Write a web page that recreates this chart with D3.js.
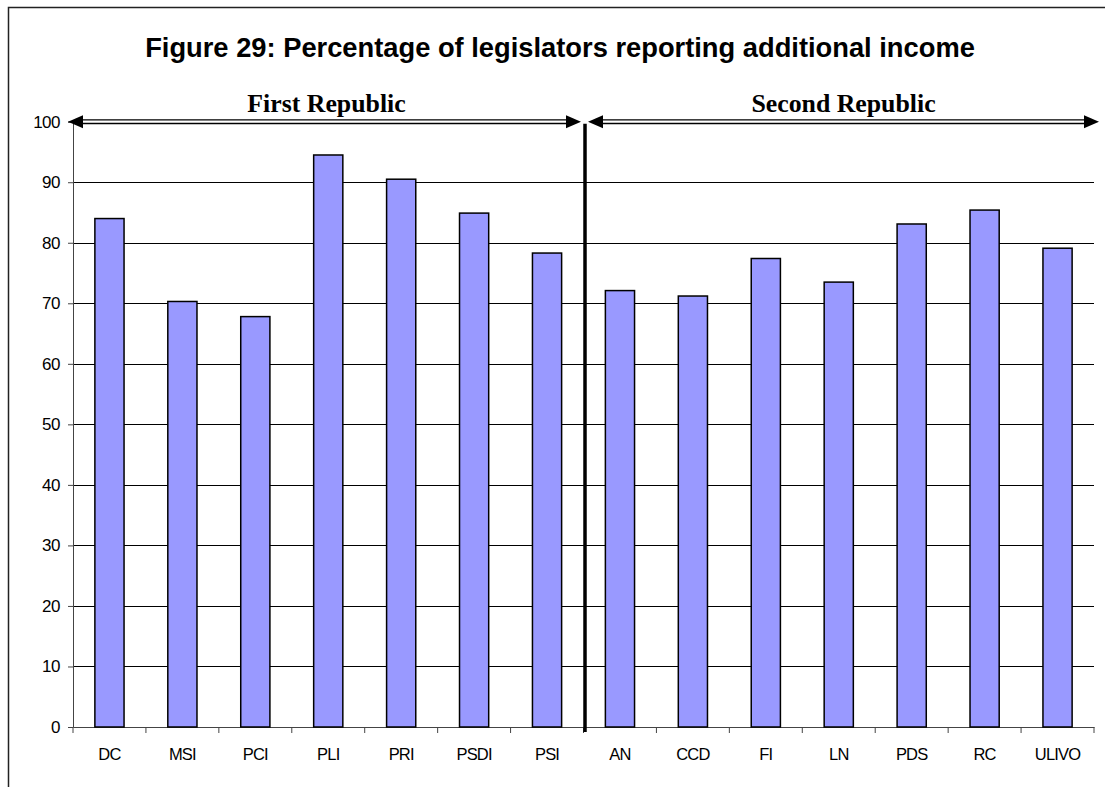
<!DOCTYPE html>
<html><head><meta charset="utf-8">
<script src="https://cdn.jsdelivr.net/npm/d3@7"></script>
<style>body{margin:0;background:#fff}svg{display:block}</style>
</head><body>
<svg id="c" width="1105" height="787"></svg>
<script>
const categories = ["DC","MSI","PCI","PLI","PRI","PSDI","PSI","AN","CCD","FI","LN","PDS","RC","ULIVO"];
const values = [84.0,70.3,67.8,94.5,90.5,84.9,78.3,72.1,71.2,77.4,73.5,83.1,85.4,79.1];
const yTicks = [0,10,20,30,40,50,60,70,80,90,100];
const periods = [{label:"First Republic", from:"DC", to:"PSI"},{label:"Second Republic", from:"AN", to:"ULIVO"}];
const title = "Figure 29: Percentage of legislators reporting additional income";

const svg = d3.select("#c");
const L = 73, R = 1094, T = 121.7, B = 727;
const x = d3.scaleBand().domain(categories).range([L, R]).paddingInner(0.6).paddingOuter(0.3);
const xb = d3.scaleBand().domain(categories).range([L, R]);
const y = d3.scaleLinear().domain([0,100]).range([B, T]);

// border
svg.append("path").attr("d", `M8.5,800 L8.5,7.5 L1110,7.5`).attr("fill","none").attr("stroke","#222").attr("stroke-width",1.5);

// title
svg.append("text").attr("x", 560).attr("y", 57).attr("text-anchor","middle")
  .attr("font-family","Liberation Sans, Arial, sans-serif").attr("font-weight","bold").attr("font-size",27.3)
  .text(title);

// gridlines
svg.append("g").selectAll("line").data(yTicks.filter(d=>d>0 && d<100)).join("line")
  .attr("x1",L).attr("x2",R).attr("y1",d=>Math.round(y(d))+0.5).attr("y2",d=>Math.round(y(d))+0.5)
  .attr("stroke","#000").attr("stroke-width",1);

// y axis
const ya = svg.append("g").attr("transform",`translate(${L},0)`)
  .call(d3.axisLeft(y).tickValues(yTicks).tickSize(5).tickPadding(8));
ya.select(".domain").attr("stroke","#444");
ya.selectAll(".tick line").attr("stroke","#444");
ya.selectAll("text").attr("font-family","Liberation Sans, Arial, sans-serif").attr("font-size",17).attr("fill","#000").attr("letter-spacing","-0.5px");

// x axis
const xa = svg.append("g").attr("transform",`translate(0,${B})`)
  .call(d3.axisBottom(xb).tickSize(0).tickPadding(21));
xa.select(".domain").attr("stroke","#444");
xa.selectAll("text").attr("font-family","Liberation Sans, Arial, sans-serif").attr("font-size",16.5).attr("fill","#000").attr("letter-spacing","-0.8px");
svg.append("g").selectAll("line").data(categories.concat(["_end"])).join("line")
  .attr("x1",(d,i)=>L + i*xb.bandwidth()).attr("x2",(d,i)=>L + i*xb.bandwidth())
  .attr("y1",B).attr("y2",B+6).attr("stroke","#444");

// bars
svg.append("g").selectAll("rect").data(values).join("rect")
  .attr("x",(d,i)=>x(categories[i])).attr("width",x.bandwidth())
  .attr("y",d=>y(d)).attr("height",d=>y(0)-y(d))
  .attr("fill","#9999FF").attr("stroke","#000").attr("stroke-width",1.5);

// divider
const divX = xb("AN") + 1.5;
svg.append("line").attr("x1",divX).attr("x2",divX).attr("y1",T+2).attr("y2",B+5)
  .attr("stroke","#000").attr("stroke-width",3.5);

// period arrows
periods.forEach((p,k)=>{
  const x1 = k===0 ? L-5 : divX+3;
  const x2 = k===0 ? divX-4 : R+5;
  const yc = y(100);
  const g = svg.append("g");
  [yc-1.8, yc+1.8].forEach(yy=>{
    g.append("line").attr("x1",x1+10).attr("x2",x2-10).attr("y1",yy).attr("y2",yy).attr("stroke","#000").attr("stroke-width",1.3);
  });
  g.append("path").attr("d",`M${x1},${yc} L${x1+15},${yc-6.5} L${x1+15},${yc+6.5} Z`).attr("fill","#000");
  g.append("path").attr("d",`M${x2},${yc} L${x2-15},${yc-6.5} L${x2-15},${yc+6.5} Z`).attr("fill","#000");
  g.append("text").attr("x",(x1+x2)/2 + (k===0?2:0)).attr("y",112).attr("text-anchor","middle")
    .attr("font-family","Liberation Serif, Times New Roman, serif").attr("font-weight","bold").attr("font-size",25.8)
    .text(p.label);
});
</script>
</body></html>
